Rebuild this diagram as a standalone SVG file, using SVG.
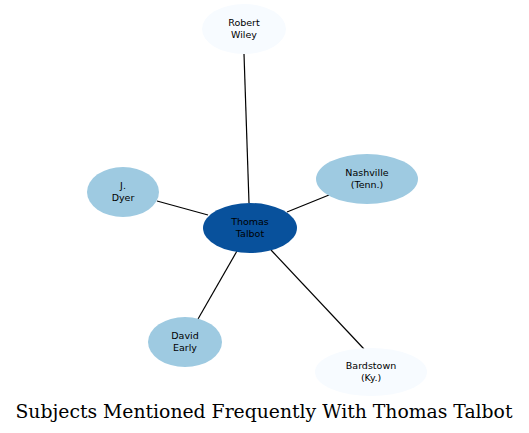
<svg xmlns="http://www.w3.org/2000/svg" width="529" height="433" viewBox="0 0 529 433">
<style>
.e{stroke:#000;stroke-width:1.2;fill:none}
.t{font-family:"DejaVu Sans",sans-serif;font-size:9.5px;text-anchor:middle;fill:#000}
.light{fill:#f7fbff}
.mid{fill:#9ecae1}
.dark{fill:#08519c}
.title{font-family:"DejaVu Serif",serif;font-size:18.8px;text-anchor:middle;fill:#000}
</style>
<rect width="529" height="433" fill="#fff"/>
<g id="edges">
<line class="e" x1="244" y1="54" x2="249" y2="203"/>
<line class="e" x1="157" y1="201" x2="208" y2="215"/>
<line class="e" x1="329" y1="195" x2="287" y2="212"/>
<line class="e" x1="198" y1="319" x2="237" y2="251"/>
<line class="e" x1="364" y1="349" x2="271" y2="250"/>
</g>
<g id="robert-wiley">
<ellipse class="light" cx="244" cy="29" rx="42" ry="25"/>
<text class="t" x="244" y="26">Robert</text>
<text class="t" x="244" y="38">Wiley</text>
</g>
<g id="thomas-talbot">
<ellipse class="dark" cx="250" cy="228" rx="47" ry="25"/>
<text class="t" x="250" y="225">Thomas</text>
<text class="t" x="250" y="237">Talbot</text>
</g>
<g id="nashville">
<ellipse class="mid" cx="367" cy="179" rx="51" ry="25"/>
<text class="t" x="367" y="176">Nashville</text>
<text class="t" x="367" y="188">(Tenn.)</text>
</g>
<g id="j-dyer">
<ellipse class="mid" cx="123" cy="192" rx="36" ry="25"/>
<text class="t" x="123" y="189">J.</text>
<text class="t" x="123" y="201">Dyer</text>
</g>
<g id="david-early">
<ellipse class="mid" cx="185" cy="342" rx="37" ry="25"/>
<text class="t" x="185" y="339">David</text>
<text class="t" x="185" y="351">Early</text>
</g>
<g id="bardstown">
<ellipse class="light" cx="371" cy="372" rx="56" ry="24"/>
<text class="t" x="371" y="369">Bardstown</text>
<text class="t" x="371" y="381">(Ky.)</text>
</g>
<text class="title" x="264" y="418">Subjects Mentioned Frequently With Thomas Talbot</text>
</svg>
